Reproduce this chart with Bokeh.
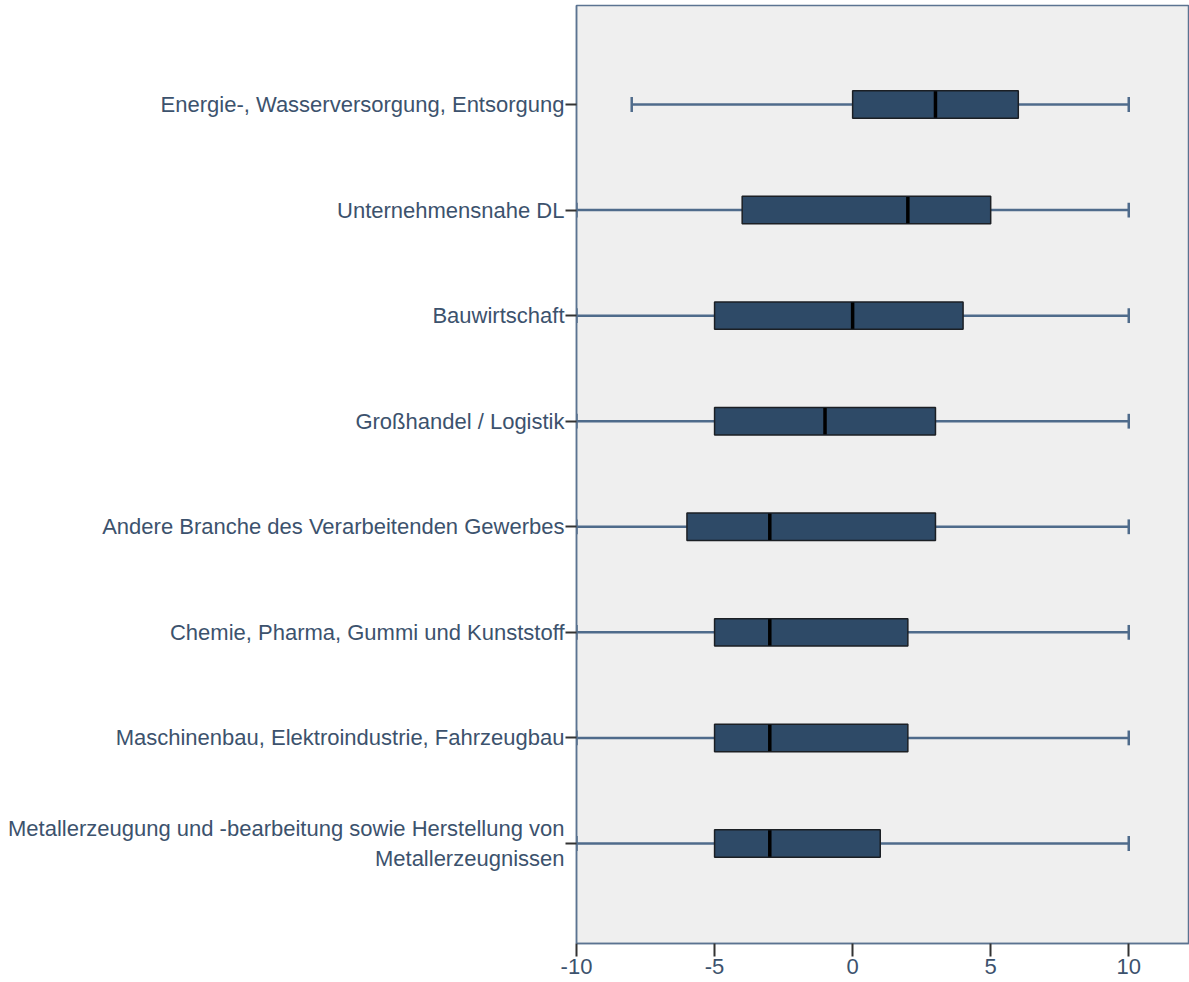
from bokeh.plotting import figure
from bokeh.models import Range1d, FixedTicker, ColumnDataSource
from bokeh.embed import file_html
from bokeh.resources import INLINE

categories = [
    "Energie-, Wasserversorgung, Entsorgung",
    "Unternehmensnahe DL",
    "Bauwirtschaft",
    "Großhandel / Logistik",
    "Andere Branche des Verarbeitenden Gewerbes",
    "Chemie, Pharma, Gummi und Kunststoff",
    "Maschinenbau, Elektroindustrie, Fahrzeugbau",
    "Metallerzeugung und -bearbeitung sowie Herstellung von\nMetallerzeugnissen",
]
whisker_low = [-8, -10, -10, -10, -10, -10, -10, -10]
q1 = [0, -4, -5, -5, -6, -5, -5, -5]
median = [3, 2, 0, -1, -3, -3, -3, -3]
q3 = [6, 5, 4, 3, 3, 2, 2, 1]
whisker_high = [10, 10, 10, 10, 10, 10, 10, 10]
x_ticks = [-10, -5, 0, 5, 10]
x_tick_labels = ["-10", "-5", "0", "5", "10"]

n = len(categories)
ypos = [n - i for i in range(n)]

box_h = 0.26
cap_h = 0.07
med_h = 0.125

src = ColumnDataSource(dict(
    y=ypos, lo=whisker_low, q1=q1, med=median, q3=q3, hi=whisker_high,
    y_cap0=[y - cap_h for y in ypos], y_cap1=[y + cap_h for y in ypos],
    y_med0=[y - med_h for y in ypos], y_med1=[y + med_h for y in ypos],
))

W, H = 1189, 982
left_px, top_px, bottom_px = 576, 5, 943
spacing = 105.57
p = figure(width=W, height=H, output_backend="svg", toolbar_location=None,
           min_border_left=left_px, min_border_right=0,
           min_border_top=top_px, min_border_bottom=H - bottom_px,
           x_range=Range1d(-10, 12.2),
           y_range=Range1d(1 - (bottom_px - 843) / spacing, n + (104 - top_px) / spacing))

p.background_fill_color = "#efefef"
p.border_fill_color = "white"
p.outline_line_color = "#5b7391"
p.outline_line_width = 1.5
p.xgrid.visible = False
p.ygrid.visible = False

whisk_col = "#4f6b8b"
p.segment(x0="lo", y0="y", x1="q1", y1="y", source=src, line_color=whisk_col, line_width=2.5)
p.segment(x0="q3", y0="y", x1="hi", y1="y", source=src, line_color=whisk_col, line_width=2.5)
p.segment(x0="lo", y0="y_cap0", x1="lo", y1="y_cap1", source=src, line_color=whisk_col, line_width=2.5)
p.segment(x0="hi", y0="y_cap0", x1="hi", y1="y_cap1", source=src, line_color=whisk_col, line_width=2.5)
p.hbar(y="y", left="q1", right="q3", height=box_h, source=src,
       fill_color="#2e4a67", line_color="#1b1f24", line_width=1.5)
p.segment(x0="med", y0="y_med0", x1="med", y1="y_med1", source=src, line_color="black", line_width=3.5)

font = "Liberation Sans"
txt_col = "#3c526d"
fs = "22px"

p.xaxis.ticker = FixedTicker(ticks=x_ticks)
p.xaxis.major_label_overrides = {t: s for t, s in zip(x_ticks, x_tick_labels)}
p.xaxis.minor_tick_line_color = None
p.xaxis.major_tick_in = 0
p.xaxis.major_tick_out = 13
p.xaxis.major_tick_line_color = "#333333"
p.xaxis.major_tick_line_width = 2
p.xaxis.axis_line_color = "#5b7391"
p.xaxis.axis_line_width = 1.5
p.xaxis.major_label_text_font = font
p.xaxis.major_label_text_font_size = fs
p.xaxis.major_label_text_color = txt_col
p.xaxis.major_label_standoff = 2

p.yaxis.ticker = FixedTicker(ticks=ypos)
p.yaxis.major_label_overrides = {y: c for y, c in zip(ypos, categories)}
p.yaxis.minor_tick_line_color = None
p.yaxis.major_tick_in = 0
p.yaxis.major_tick_out = 11
p.yaxis.major_tick_line_color = "#333333"
p.yaxis.major_tick_line_width = 2
p.yaxis.axis_line_color = "#5b7391"
p.yaxis.axis_line_width = 1.5
p.yaxis.major_label_text_font = font
p.yaxis.major_label_text_font_size = fs
p.yaxis.major_label_text_color = txt_col
p.yaxis.major_label_standoff = 1

open("out.html", "w").write(file_html(p, INLINE))
